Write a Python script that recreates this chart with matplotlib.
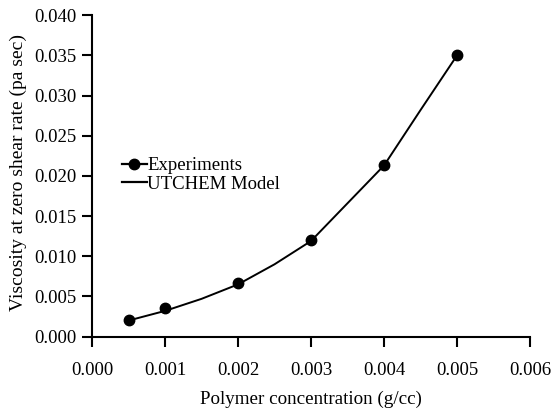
import matplotlib.pyplot as plt
from matplotlib.lines import Line2D

plt.rcParams['font.family'] = ['Liberation Serif', 'DejaVu Serif']

# measured zero-shear viscosity
conc_exp = [0.0005, 0.001, 0.002, 0.003, 0.004, 0.005]
visc_exp = [0.0021, 0.0035, 0.0067, 0.0120, 0.0213, 0.0350]

# UTCHEM model curve
conc_model = [0.0005, 0.001, 0.0015, 0.002, 0.0025, 0.003, 0.0035, 0.004, 0.0045, 0.005]
visc_model = [0.0020, 0.0032, 0.0047, 0.0065, 0.0090, 0.0119, 0.0166, 0.0213, 0.0282, 0.0350]

xticks = [0.000, 0.001, 0.002, 0.003, 0.004, 0.005, 0.006]
yticks = [0.000, 0.005, 0.010, 0.015, 0.020, 0.025, 0.030, 0.035, 0.040]

fig = plt.figure(figsize=(5.51, 4.11), dpi=100)
ax = fig.add_axes([0.167, 0.181, 0.795, 0.782])

ax.plot(conc_exp, visc_exp, 'o', color='black', markersize=7.5, label='Experiments')
ax.plot(conc_model, visc_model, '-', color='black', linewidth=1.4, label='UTCHEM Model')

ax.set_xlim(0, 0.006)
ax.set_ylim(0, 0.040)
ax.set_xticks(xticks)
ax.set_yticks(yticks)
ax.set_xticklabels(['%.3f' % v for v in xticks])
ax.set_yticklabels(['%.3f' % v for v in yticks])
ax.tick_params(direction='out', length=7, width=1.5, labelsize=13.5)
ax.tick_params(axis='x', pad=11)
ax.tick_params(axis='y', pad=4)

for side in ['top', 'right']:
    ax.spines[side].set_visible(False)
for side in ['left', 'bottom']:
    ax.spines[side].set_linewidth(1.5)

ax.set_xlabel('Polymer concentration (g/cc)', fontsize=13.7, labelpad=9)
ax.set_ylabel('Viscosity at zero shear rate (pa sec)', fontsize=14)
ax.yaxis.set_label_coords(-0.148, 0.51)

# legend entries: line plus marker for experiments, plain line for model
handles = [Line2D([], [], color='black', marker='o', markersize=7.5, linewidth=1.6),
           Line2D([], [], color='black', linewidth=1.6)]
ax.legend(handles, ['Experiments', 'UTCHEM Model'], loc='center left',
          bbox_to_anchor=(0.068, 0.503), frameon=False, fontsize=13.5,
          handlelength=1.35, handletextpad=0.0, labelspacing=0.05,
          borderpad=0, borderaxespad=0)

fig.savefig('out.png', dpi=100)
